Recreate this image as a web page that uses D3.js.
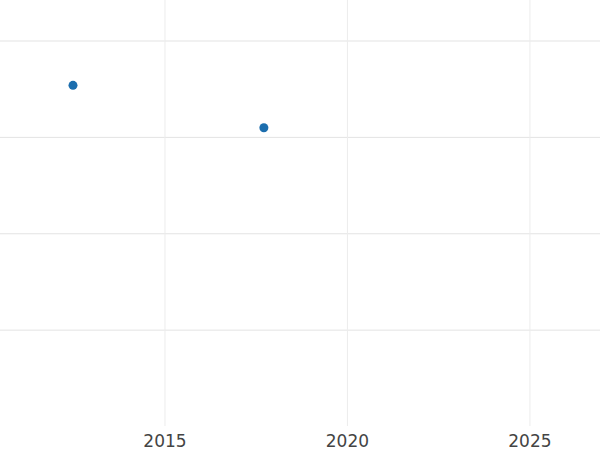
<!DOCTYPE html>
<html><head><meta charset="utf-8">
<script src="https://cdn.jsdelivr.net/npm/d3@7"></script>
<style>body{margin:0;background:#fff}</style>
</head><body><div id="chart"></div>
<script>
const years = [2012.48, 2017.71];
const values = [3.54, 3.1];
const xTicks = [2015, 2020, 2025];
const yTicks = [1, 2, 3, 4];

const width = 600, height = 450;
const svg = d3.select("#chart").append("svg").attr("width", width).attr("height", height);

const x = d3.scaleLinear().domain([2010.48, 2026.92]).range([0, 600]);
const y = d3.scaleLinear().domain([0, 4]).range([426.5, 41]);

svg.append("g").selectAll("line").data(yTicks).join("line")
    .attr("x1", 0).attr("x2", width)
    .attr("y1", d => y(d)).attr("y2", d => y(d))
    .attr("stroke", "#e3e3e3").attr("stroke-width", 1);

svg.append("g").selectAll("line").data(xTicks).join("line")
    .attr("x1", d => x(d)).attr("x2", d => x(d))
    .attr("y1", 0).attr("y2", 426)
    .attr("stroke", "#ececec").attr("stroke-width", 1);

svg.append("g").selectAll("text").data(xTicks).join("text")
    .attr("x", d => x(d)).attr("y", 447)
    .attr("text-anchor", "middle")
    .attr("font-family", "DejaVu Sans").attr("font-size", 17).attr("fill", "#444")
    .text(d => d);

svg.append("g").selectAll("circle").data(years).join("circle")
    .attr("cx", d => x(d)).attr("cy", (d, i) => y(values[i]))
    .attr("r", 4.5).attr("fill", "#1c6eae");
</script></body></html>
